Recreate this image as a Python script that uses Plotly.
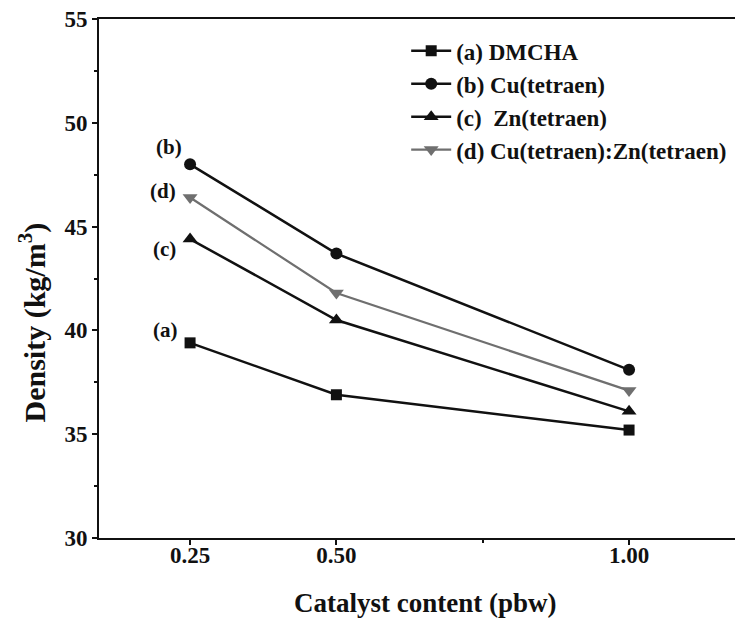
import plotly.graph_objects as go

# Catalyst loading (pbw) and measured foam density (kg/m^3)
catalyst_content = [0.25, 0.50, 1.00]
tick_labels = ["0.25", "0.50", "1.00"]

series_names = [
    "(a) DMCHA",
    "(b) Cu(tetraen)",
    "(c)  Zn(tetraen)",
    "(d) Cu(tetraen):Zn(tetraen)",
]
series_tags = ["(a)", "(b)", "(c)", "(d)"]
density_a = [39.4, 36.9, 35.2]
density_b = [48.0, 43.7, 38.1]
density_c = [44.4, 40.5, 36.1]
density_d = [46.4, 41.8, 37.1]

series_values = [density_a, density_b, density_c, density_d]
symbols = ["square", "circle", "triangle-up", "triangle-down"]
colors = ["#111111", "#111111", "#111111", "#6f6f6f"]
line_widths = [2.5, 2.5, 2.5, 2.2]
marker_sizes = [11, 12, 13, 13]

# label offsets (px) relative to the first point of each curve
tag_offsets = [(-25, 13), (-21, 17), (-26, -10), (-27, 7)]

FONT = "Liberation Serif, Times New Roman, serif"
INK = "#111111"

fig = go.Figure()
for name, vals, sym, col, lw, ms in zip(series_names, series_values, symbols,
                                        colors, line_widths, marker_sizes):
    fig.add_trace(go.Scatter(
        x=catalyst_content, y=vals, name=name, mode="lines+markers",
        line=dict(color=col, width=lw),
        marker=dict(symbol=sym, size=ms, color=col),
    ))

for tag, vals, (dx, dy) in zip(series_tags, series_values, tag_offsets):
    fig.add_annotation(
        x=catalyst_content[0], y=vals[0], text=tag, showarrow=False,
        xshift=dx, yshift=dy, xanchor="center", yanchor="middle",
        font=dict(family=FONT, size=21, color=INK, weight="bold"),
    )

# axis titles
fig.add_annotation(
    xref="paper", yref="paper", x=0.514, y=-0.125,
    xanchor="center", yanchor="middle", showarrow=False,
    text="Catalyst content (pbw)",
    font=dict(family=FONT, size=27, color=INK, weight="bold"),
)
fig.add_annotation(
    xref="paper", yref="paper", x=-0.104, y=0.415,
    xanchor="center", yanchor="middle", showarrow=False, textangle=-90,
    text="Density (kg/m<sup>3</sup>)",
    font=dict(family=FONT, size=30, color=INK, weight="bold"),
)

fig.update_layout(
    width=735, height=621,
    margin=dict(l=99, r=0, t=19, b=83),
    paper_bgcolor="white", plot_bgcolor="white",
    font=dict(family=FONT, color=INK, weight="bold"),
    legend=dict(
        x=0.483, y=0.98, xanchor="left", yanchor="top",
        bgcolor="rgba(0,0,0,0)", tracegroupgap=0, itemwidth=40,
        font=dict(family=FONT, size=23, color=INK, weight="bold"),
    ),
)

fig.update_xaxes(
    range=[0.0944, 1.181],
    tickmode="array", tickvals=catalyst_content, ticktext=tick_labels,
    ticks="outside", ticklen=5, tickwidth=2, tickcolor=INK,
    ticklabelstandoff=-10,
    minor=dict(tickmode="array", tickvals=[0.75], ticks="outside",
               ticklen=3, tickwidth=2, tickcolor=INK),
    showline=True, linewidth=2, linecolor=INK, mirror=True,
    showgrid=False, zeroline=False,
    tickfont=dict(family=FONT, size=23, weight="bold"),
)

fig.update_yaxes(
    range=[30, 55], tickmode="linear", tick0=30, dtick=5,
    ticks="outside", ticklen=5, tickwidth=2, tickcolor=INK,
    minor=dict(dtick=2.5, ticks="outside", ticklen=3, tickwidth=2,
               tickcolor=INK),
    showline=True, linewidth=2, linecolor=INK,
    showgrid=False, zeroline=False,
    tickfont=dict(family=FONT, size=23, weight="bold"),
)

fig.write_html("out.html")
